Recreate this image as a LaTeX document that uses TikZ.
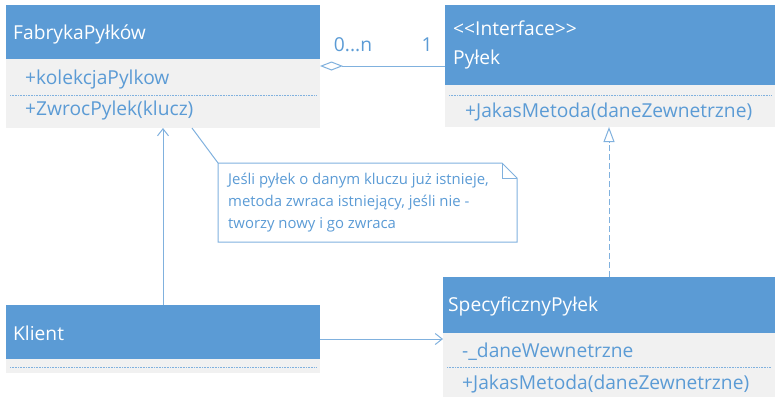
\documentclass[tikz,border=0pt]{standalone}
\usepackage{fontspec}
\setmainfont{Open Sans}
\usetikzlibrary{arrows.meta,calc}
\definecolor{umlblue}{HTML}{5B9BD5}
\definecolor{umlgray}{HTML}{F1F1F1}
\definecolor{umlline}{HTML}{80B1DE}
\begin{document}
\begin{tikzpicture}[x=1pt,y=-1pt,
  box/.style={anchor=north west, inner sep=0pt, outer sep=0pt, draw=none},
  headbox/.style={box, fill=umlblue},
  bodybox/.style={box, fill=umlgray},
  title/.style={anchor=west, inner sep=0pt, text=white, font=\fontsize{19.2}{22}\selectfont},
  member/.style={anchor=west, inner sep=0pt, text=umlblue, font=\fontsize{19.2}{22}\selectfont},
  sep/.style={draw=umlline, line width=0.8pt, dash pattern=on 0.8pt off 0.8pt},
  conn/.style={draw=umlline, line width=1pt},
  noteline/.style={draw=umlline, line width=1pt},
  notetext/.style={anchor=north west, inner sep=0pt, text=umlblue, align=left,
    font=\fontsize{14.9}{22}\selectfont},
]
\useasboundingbox (0,0) rectangle (775,397);

% FabrykaPyłków
\node[headbox, minimum width=314, minimum height=54] (fabhead) at (6,5) {};
\node[bodybox, minimum width=314, minimum height=69] (fabbody) at (6,59) {};
\node[title] (fabname) at (13,34) {FabrykaPyłków};
\node[member] (fabattr) at (25,80) {+kolekcjaPylkow};
\draw[sep] (10,95) -- (316,95);
\node[member] (fabop) at (25,111) {+ZwrocPylek(klucz)};

% Pyłek (interface)
\node[headbox, minimum width=330, minimum height=80] (pylhead) at (445,5) {};
\node[bodybox, minimum width=330, minimum height=42] (pylbody) at (445,85) {};
\node[title] (pylstereo) at (453,28) {<\kern0pt<Interface>\kern0pt>};
\node[title] (pylname) at (453,60) {Pyłek};
\draw[sep] (449,95) -- (771,95);
\node[member] (pylop) at (465,112) {+JakasMetoda(daneZewnetrzne)};

% Klient
\node[headbox, minimum width=314, minimum height=54] (klihead) at (6,305) {};
\node[bodybox, minimum width=314, minimum height=14] (klibody) at (6,359) {};
\node[title] (kliname) at (13,333) {Klient};
\draw[sep] (10,367) -- (316,367);

% SpecyficznyPyłek
\node[headbox, minimum width=332, minimum height=56] (spechead) at (443,277) {};
\node[bodybox, minimum width=332, minimum height=64] (specbody) at (443,333) {};
\node[title] (specname) at (448,306) {SpecyficznyPyłek};
\node[member] (specattr) at (462,352) {-\_daneWewnetrzne};
\draw[sep] (447,367) -- (771,367);
\node[member] (specop) at (462,384) {+JakasMetoda(daneZewnetrzne)};

% Note
\node[box, minimum width=299, minimum height=79] (note) at (218,163) {};
\draw[noteline] (note.north west) -- ([xshift=-15pt]note.north east)
  -- ([yshift=-15pt]note.north east) -- (note.south east) -- (note.south west) -- cycle;
\draw[noteline] ([xshift=-15pt]note.north east) -- ([xshift=-15pt,yshift=-15pt]note.north east)
  -- ([yshift=-15pt]note.north east);
\node[notetext] (notetxt) at (228,173) {Jeśli pyłek o danym kluczu już istnieje,\\
  metoda zwraca istniejący, jeśli nie -\\ tworzy nowy i go zwraca};

% Connectors
\draw[conn] ([xshift=29pt]fabbody.south) -- (note.north west);
\draw[conn, -{Straight Barb[length=7pt, width=11pt]}] (klihead.north) -- (fabbody.south);
\draw[conn, -{Straight Barb[length=7pt, width=11pt]}] ([yshift=-7pt]klihead.east)
  -- ([yshift=-7pt]klihead.east -| spechead.west);
\draw[conn, dash pattern=on 6pt off 3pt, -{Triangle[open, fill=white, length=15pt, width=11pt]}]
  (spechead.north) -- (spechead.north |- pylbody.south);
\draw[conn, {Diamond[open, fill=white, length=23pt, width=9pt]}-]
  ([yshift=-7pt]fabbody.north east) -- ([yshift=-7pt]fabbody.north east -| pylhead.west);

% Multiplicities
\node[member, anchor=center] (mult0) at (353,45) {0...n};
\node[member, anchor=center] (mult1) at (427,45) {1};
\end{tikzpicture}
\end{document}
